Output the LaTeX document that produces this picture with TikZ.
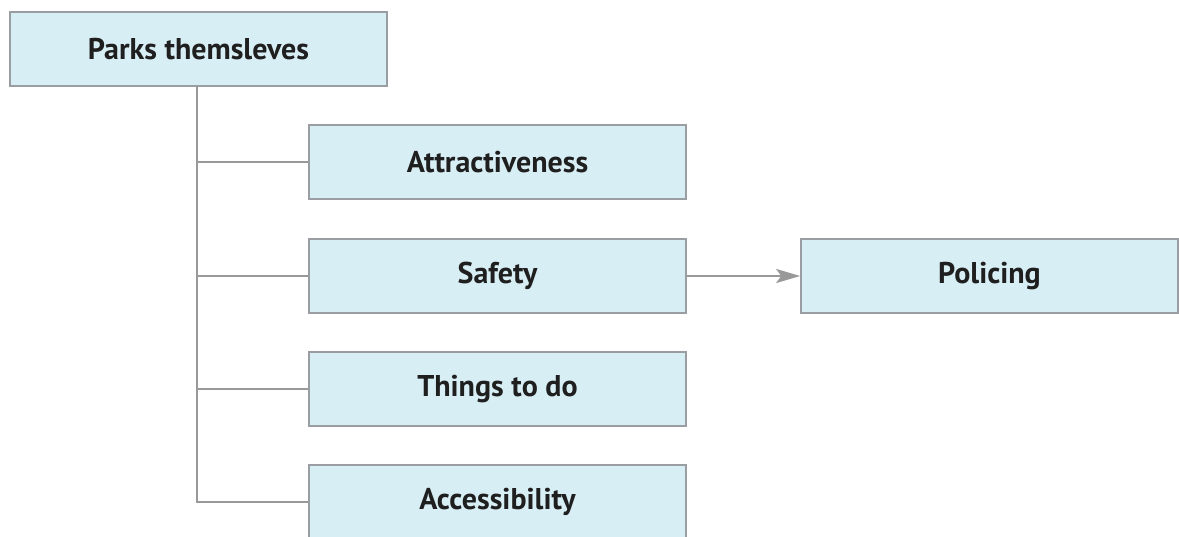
\documentclass[tikz,border=0pt]{standalone}
\usepackage{fontspec}
\setmainfont{PT Sans}
\usetikzlibrary{arrows.meta}
\definecolor{boxfill}{HTML}{D8EEF5}
\definecolor{boxline}{HTML}{9A9DA1}
\definecolor{conn}{HTML}{999999}
\begin{document}
\begin{tikzpicture}[x=1pt,y=-1pt,
  box/.style={draw=boxline,line width=1.6pt,fill=boxfill,minimum width=377pt,minimum height=74pt,inner sep=0pt,font=\fontsize{30}{36}\selectfont\bfseries,text=black!88},
  link/.style={draw=conn,line width=2.6pt},
  arr/.style={link,-{Stealth[length=24pt,width=14pt,inset=5pt]}}]
\useasboundingbox (0,0) rectangle (1179,536);
\clip (0,0) rectangle (1179,536);
\node[box] (parks) at (198.5,49) {Parks themsleves};
\node[box] (attr) at (497.5,162) {Attractiveness};
\node[box] (safe) at (497.5,276) {Safety};
\node[box] (things) at (497.5,389) {Things to do};
\node[box] (access) at (497.5,502) {Accessibility};
\node[box] (police) at (989.5,276) {Policing};
\coordinate (top) at (197,86);
\draw[link] (top) |- (access.west);
\draw[link] (top |- attr.west) -- (attr.west);
\draw[link] (top |- safe.west) -- (safe.west);
\draw[link] (top |- things.west) -- (things.west);
\draw[arr] (safe.east) -- (police.west);
\end{tikzpicture}
\end{document}
